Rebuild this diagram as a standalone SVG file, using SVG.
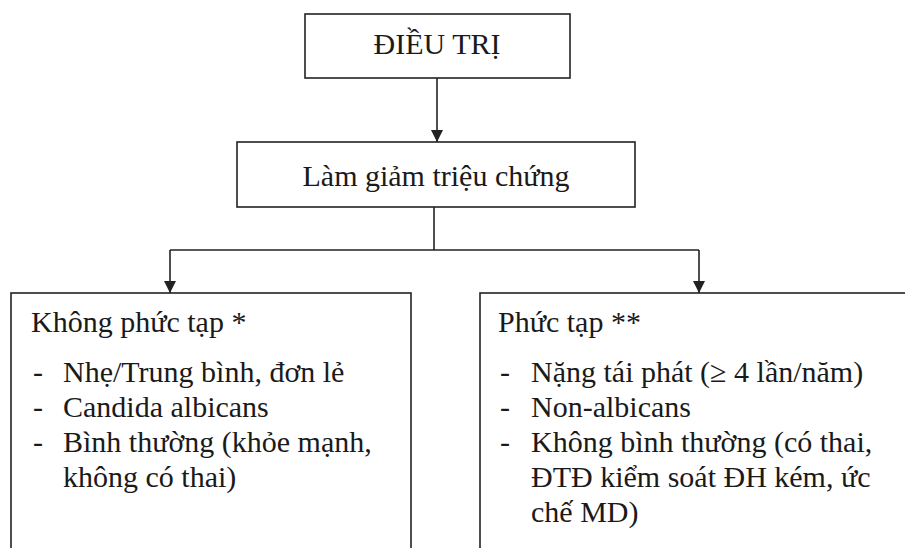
<svg xmlns="http://www.w3.org/2000/svg" width="905" height="548" viewBox="0 0 905 548">
<defs>
<style>
.box{fill:#fff;stroke:#222;stroke-width:1.6}
.t{font-family:'Liberation Serif',Tinos,'Times New Roman','DejaVu Serif',serif;font-size:30px;fill:#1a1a1a}
.c{text-anchor:middle}
.ln{fill:none;stroke:#222;stroke-width:1.6}
</style>
<marker id="ah" viewBox="0 0 10 10" refX="10" refY="5" markerWidth="12" markerHeight="12" markerUnits="userSpaceOnUse" orient="auto">
<path d="M0,0 L10,5 L0,10 z" fill="#222"/>
</marker>
</defs>
<rect width="905" height="548" fill="#fff"/>
<g id="connectors">
<line class="ln" x1="437" y1="78" x2="437" y2="142" marker-end="url(#ah)"/>
<polyline class="ln" points="434,207 434,250"/>
<polyline class="ln" points="170,250 699,250"/>
<line class="ln" x1="170" y1="250" x2="170" y2="293" marker-end="url(#ah)"/>
<line class="ln" x1="699" y1="250" x2="699" y2="293" marker-end="url(#ah)"/>
</g>
<g id="node-dieutri">
<rect class="box" x="305" y="14" width="265" height="64"/>
<text class="t c" x="437" y="54" font-family="Liberation Serif, serif">ĐIỀU TRỊ</text>
</g>
<g id="node-lamgiam">
<rect class="box" x="237" y="142" width="398" height="65"/>
<text class="t c" x="436" y="186">Làm giảm triệu chứng</text>
</g>
<g id="node-khongphuctap">
<rect class="box" x="11" y="293" width="400" height="300"/>
<text class="t" x="31" y="332">Không phức tạp *</text>
<text class="t" x="33" y="382">-</text><text class="t" x="63" y="382">Nhẹ/Trung bình, đơn lẻ</text>
<text class="t" x="33" y="417">-</text><text class="t" x="63" y="417">Candida albicans</text>
<text class="t" x="33" y="452">-</text><text class="t" x="63" y="452">Bình thường (khỏe mạnh,</text>
<text class="t" x="63" y="487">không có thai)</text>
</g>
<g id="node-phuctap">
<rect class="box" x="480" y="293" width="460" height="300"/>
<text class="t" x="498" y="332">Phức tạp **</text>
<text class="t" x="500" y="382">-</text><text class="t" x="531" y="382">Nặng tái phát (≥ 4 lần/năm)</text>
<text class="t" x="500" y="417">-</text><text class="t" x="531" y="417">Non-albicans</text>
<text class="t" x="500" y="452">-</text><text class="t" x="531" y="452">Không bình thường (có thai,</text>
<text class="t" x="531" y="487">ĐTĐ kiểm soát ĐH kém, ức</text>
<text class="t" x="531" y="522">chế MD)</text>
</g>
</svg>
